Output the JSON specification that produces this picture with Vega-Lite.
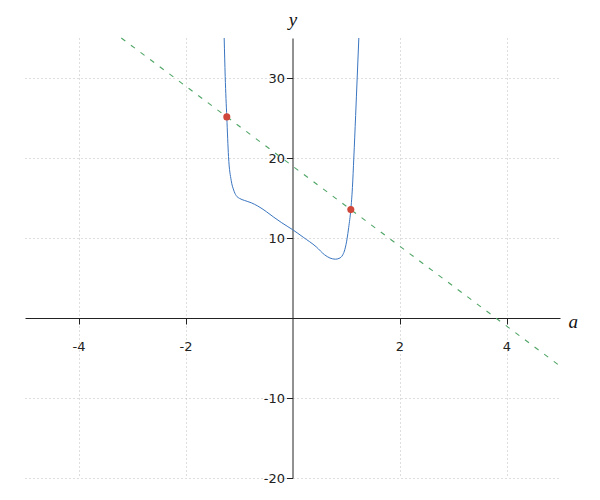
{
  "$schema": "https://vega.github.io/schema/vega-lite/v6.json",
  "width": 535,
  "height": 440,
  "autosize": {"type": "none"},
  "padding": {"left": 25, "top": 38, "right": 40, "bottom": 22},
  "config": {
    "view": {"stroke": null},
    "axis": {
      "domainColor": "#222",
      "tickColor": "#222",
      "labelColor": "#222",
      "labelFont": "DejaVu Sans",
      "labelFontSize": 13,
      "labelExpr": "'' + datum.value",
      "tickSize": 6,
      "grid": true,
      "gridColor": "#bdbdbd",
      "gridDash": [1, 3],
      "titleFont": "Liberation Serif",
      "titleFontStyle": "italic",
      "titleFontWeight": "normal",
      "titleFontSize": 19,
      "titleColor": "#111"
    }
  },
  "encoding": {
    "x": {
      "field": "a",
      "type": "quantitative",
      "scale": {"domain": [-5, 5], "nice": false, "zero": false},
      "axis": {
        "title": "a",
        "orient": "bottom",
        "offset": -160,
        "values": [-4, -2, 2, 4],
        "labelPadding": 16,
        "titleX": 543,
        "titleY": 3,
        "titleAlign": "left",
        "titleBaseline": "middle",
        "titleAngle": 0
      }
    },
    "y": {
      "field": "y",
      "type": "quantitative",
      "scale": {"domain": [-20, 35], "nice": false, "zero": false},
      "axis": {
        "title": "y",
        "orient": "left",
        "offset": -267.5,
        "values": [-20, -10, 10, 20, 30],
        "labelPadding": 2,
        "titleX": 0,
        "titleY": -13,
        "titleAngle": 0,
        "titleAlign": "center",
        "titleBaseline": "alphabetic"
      }
    }
  },
  "layer": [
    {
      "data": {
        "values": [
          {"a": -3.2, "y": 35},
          {"a": 5, "y": -6}
        ]
      },
      "mark": {"type": "line", "color": "#4fa566", "strokeWidth": 1.1, "strokeDash": [5, 7]}
    },
    {
      "data": {
        "values": [
          {"a": -1.277, "y": 35},
          {"a": -1.258, "y": 30.2},
          {"a": -1.228, "y": 25.1},
          {"a": -1.196, "y": 20.2},
          {"a": -1.146, "y": 17.2},
          {"a": -1.1, "y": 16.0},
          {"a": -1.052, "y": 15.3},
          {"a": -0.99, "y": 14.95},
          {"a": -0.9, "y": 14.7},
          {"a": -0.77, "y": 14.4},
          {"a": -0.65, "y": 14.0},
          {"a": -0.49, "y": 13.3},
          {"a": -0.35, "y": 12.6},
          {"a": -0.2, "y": 11.9},
          {"a": 0, "y": 11.05},
          {"a": 0.2, "y": 10.1},
          {"a": 0.443, "y": 8.9},
          {"a": 0.6, "y": 7.9},
          {"a": 0.7, "y": 7.5},
          {"a": 0.8, "y": 7.35},
          {"a": 0.87, "y": 7.45},
          {"a": 0.94, "y": 7.9},
          {"a": 0.98, "y": 8.6},
          {"a": 1.02, "y": 9.9},
          {"a": 1.05, "y": 11.3},
          {"a": 1.09, "y": 13.55},
          {"a": 1.12, "y": 16.3},
          {"a": 1.146, "y": 20},
          {"a": 1.18, "y": 25.3},
          {"a": 1.209, "y": 30},
          {"a": 1.24, "y": 35}
        ]
      },
      "mark": {"type": "line", "color": "#3a75c0", "strokeWidth": 1, "interpolate": "monotone"}
    },
    {
      "data": {
        "values": [
          {"a": -1.228, "y": 25.14},
          {"a": 1.09, "y": 13.55}
        ]
      },
      "mark": {"type": "circle", "color": "#d0483b", "opacity": 1, "size": 50}
    }
  ]
}
